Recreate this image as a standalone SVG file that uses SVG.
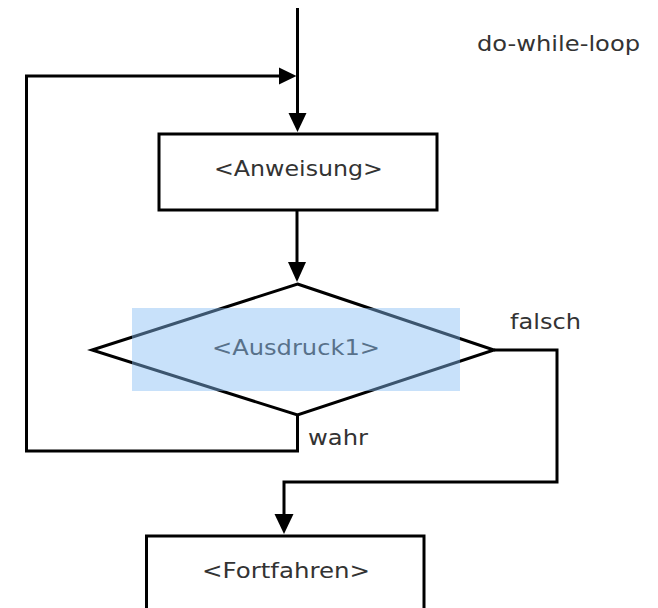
<svg xmlns="http://www.w3.org/2000/svg" width="658" height="608" viewBox="0 0 658 608">
  <style>
    .line { fill: none; stroke: #000; stroke-width: 3; stroke-linejoin: miter; }
    .shape { fill: #fff; stroke: #000; stroke-width: 3; }
    .head { fill: #000; stroke: none; }
    .label { font-family: "DejaVu Sans", Verdana, sans-serif; font-size: 22px; fill: #333; }
    .mid { text-anchor: middle; }
  </style>
  <rect width="658" height="608" fill="#fff"/>

  <!-- connectors -->
  <g id="connectors">
    <!-- entry line into the statement box -->
    <path class="line" d="M297.5 8 V114"/>
    <polygon class="head" points="288.5,113 306.5,113 297.5,132"/>
    <!-- back edge: from "wahr" round the left side into the entry -->
    <path class="line" d="M297.5 415 V451 H26.5 V76 H281"/>
    <polygon class="head" points="279,67.5 279,84.5 296.5,76"/>
    <!-- statement to condition -->
    <path class="line" d="M297 210 V264"/>
    <polygon class="head" points="288,262 306,262 297,282"/>
    <!-- "falsch" exit to continuation -->
    <path class="line" d="M494 350 H557 V482 H284 V515"/>
    <polygon class="head" points="274.5,514 293.5,514 284,534"/>
  </g>

  <g id="label-title">
    <text class="label" x="477" y="51" textLength="163" lengthAdjust="spacingAndGlyphs">do-while-loop</text>
  </g>

  <g id="node-anweisung">
    <rect class="shape" x="159" y="134" width="278" height="76"/>
    <text class="label mid" x="298.5" y="176" textLength="169" lengthAdjust="spacingAndGlyphs">&lt;Anweisung&gt;</text>
  </g>

  <g id="node-ausdruck1">
    <polygon class="shape" points="297.5,284 494,350 297.5,415 92,350"/>
    <text class="label mid" x="296" y="355" textLength="168" lengthAdjust="spacingAndGlyphs">&lt;Ausdruck1&gt;</text>
    <!-- selection highlight over the condition -->
    <rect x="132" y="308" width="328" height="83" fill="#85bdf4" fill-opacity="0.45"/>
  </g>

  <g id="label-falsch">
    <text class="label" x="510" y="329" textLength="71" lengthAdjust="spacingAndGlyphs">falsch</text>
  </g>

  <g id="label-wahr">
    <text class="label" x="308" y="445" textLength="60" lengthAdjust="spacingAndGlyphs">wahr</text>
  </g>

  <g id="node-fortfahren">
    <rect class="shape" x="146.5" y="536" width="277.5" height="100"/>
    <text class="label mid" x="286" y="578" textLength="168" lengthAdjust="spacingAndGlyphs">&lt;Fortfahren&gt;</text>
  </g>
</svg>
